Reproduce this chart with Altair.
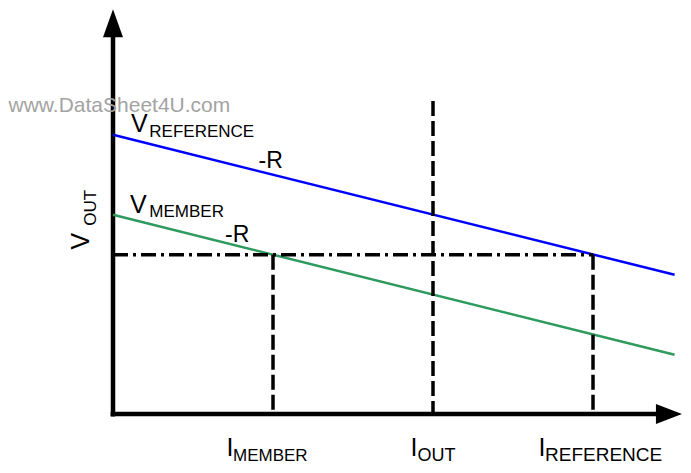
import altair as alt
import pandas as pd

# ---- values (arbitrary units: current I, voltage V) ----
line_names = ["V_REFERENCE", "V_MEMBER"]
line_i = [0.0, 35.1]                 # start / end current of both load lines
v_reference = [17.45, 8.7]           # V_REFERENCE load line
v_member = [12.45, 3.7]              # V_MEMBER load line
i_marks = ["I_MEMBER", "I_OUT", "I_REFERENCE"]
i_values = [10.0, 20.0, 30.0]        # currents marked on the horizontal axis
i_tops = [9.95, 19.56, 9.95]         # upper ends of the dashed verticals
v_level = 9.95                       # dash-dot output voltage level
axis_i_end = 35.56                   # tip of the current axis arrow
axis_v_end = 25.3                    # tip of the voltage axis arrow

# ---- layout (pixels -> data units, 16 px per unit) ----
W, H = 675, 457
PX = 16.0
XMIN = -(113 - 8) / PX
XMAX = XMIN + W / PX
YMAX = (414 - 8) / PX
YMIN = YMAX - H / PX
FONT = "Liberation Sans"

xs = alt.Scale(domain=[XMIN, XMAX], nice=False, zero=False)
ys = alt.Scale(domain=[YMIN, YMAX], nice=False, zero=False)

def X(f):
    return alt.X(f, type="quantitative", scale=xs, axis=None)

def Y(f):
    return alt.Y(f, type="quantitative", scale=ys, axis=None)

# axes lines
axes_df = pd.DataFrame({
    "x": [0.0, -0.15],
    "y": [-0.15, 0.0],
    "x2": [0.0, axis_i_end - 1.55],
    "y2": [axis_v_end - 1.6, 0.0],
})
axes = alt.Chart(axes_df).mark_rule(strokeWidth=4.5, color="black").encode(
    x=X("x"), y=Y("y"), x2="x2", y2="y2"
)

up_df = pd.DataFrame({"x": [0.0], "y": [axis_v_end - 14 / PX]})
up_arrow = alt.Chart(up_df).mark_point(
    shape="M0,-1L0.714,1L-0.714,1Z", size=784, filled=True,
    color="black", opacity=1, strokeWidth=0
).encode(x=X("x"), y=Y("y"))

right_df = pd.DataFrame({"x": [axis_i_end - 13 / PX], "y": [0.0]})
right_arrow = alt.Chart(right_df).mark_point(
    shape="M1,0L-1,0.769L-1,-0.769Z", size=676, filled=True,
    color="black", opacity=1, strokeWidth=0
).encode(x=X("x"), y=Y("y"))

# load lines
lines_df = pd.DataFrame({
    "series": [line_names[0]] * 2 + [line_names[1]] * 2,
    "i": line_i + line_i,
    "v": v_reference + v_member,
})
lines = alt.Chart(lines_df).mark_line(strokeWidth=2.5).encode(
    x=X("i"), y=Y("v"),
    color=alt.Color("series:N", scale=alt.Scale(domain=line_names, range=["#0000ff", "#2e9a5e"]), legend=None),
)

# dash-dot level
level_df = pd.DataFrame({"x": [0.0], "x2": [i_values[2]], "y": [v_level]})
level = alt.Chart(level_df).mark_rule(
    strokeWidth=3.5, color="black", strokeDash=[15, 5, 3, 5]
).encode(x=X("x"), x2="x2", y=Y("y"))

# dashed verticals
vert_df = pd.DataFrame({"name": i_marks, "x": i_values, "top": i_tops, "bottom": [0.0] * 3})
verts = alt.Chart(vert_df).mark_rule(
    strokeWidth=3.5, color="black", strokeDash=[15, 5]
).encode(x=X("x"), y=Y("top"), y2="bottom")

# text labels (main letter + subscript drawn separately)
labels = pd.DataFrame([
    {"t": "V", "x": 1.12, "y": 17.6, "s": 25, "a": 0, "c": "black"},
    {"t": "REFERENCE", "x": 2.27, "y": 17.29, "s": 17, "a": 0, "c": "black"},
    {"t": "-R", "x": 9.1, "y": 15.4, "s": 23, "a": 0, "c": "black"},
    {"t": "V", "x": 1.06, "y": 12.54, "s": 25, "a": 0, "c": "black"},
    {"t": "MEMBER", "x": 2.27, "y": 12.29, "s": 17, "a": 0, "c": "black"},
    {"t": "-R", "x": 7.0, "y": 10.75, "s": 23, "a": 0, "c": "black"},
    {"t": "V", "x": -1.48, "y": 10.28, "s": 25, "a": 270, "c": "black"},
    {"t": "OUT", "x": -1.08, "y": 11.76, "s": 17, "a": 270, "c": "black"},
    {"t": "I", "x": 7.1, "y": -2.63, "s": 25, "a": 0, "c": "black"},
    {"t": "MEMBER", "x": 7.5, "y": -2.94, "s": 17, "a": 0, "c": "black"},
    {"t": "I", "x": 18.6, "y": -2.63, "s": 25, "a": 0, "c": "black"},
    {"t": "OUT", "x": 19.03, "y": -2.94, "s": 18, "a": 0, "c": "black"},
    {"t": "I", "x": 26.6, "y": -2.63, "s": 25, "a": 0, "c": "black"},
    {"t": "REFERENCE", "x": 27.0, "y": -2.94, "s": 19, "a": 0, "c": "black"},
    {"t": "www.DataSheet4U.com", "x": -6.53, "y": 18.85, "s": 21, "a": 0, "c": "#a3a3a3"},
])
texts = alt.Chart(labels).mark_text(
    align="left", baseline="alphabetic", font=FONT
).encode(
    x=X("x"), y=Y("y"), text="t:N",
    size=alt.Size("s:Q", scale=None),
    angle=alt.Angle("a:Q", scale=None),
    color=alt.Color("c:N", scale=None),
)

chart = alt.layer(axes, lines, level, verts, up_arrow, right_arrow, texts).properties(
    width=W, height=H,
    autosize=alt.AutoSizeParams(type="none"),
    padding=0,
    background="white",
).configure_view(stroke=None)

chart.save("out.html", embed_options={"renderer": "svg", "actions": False})
